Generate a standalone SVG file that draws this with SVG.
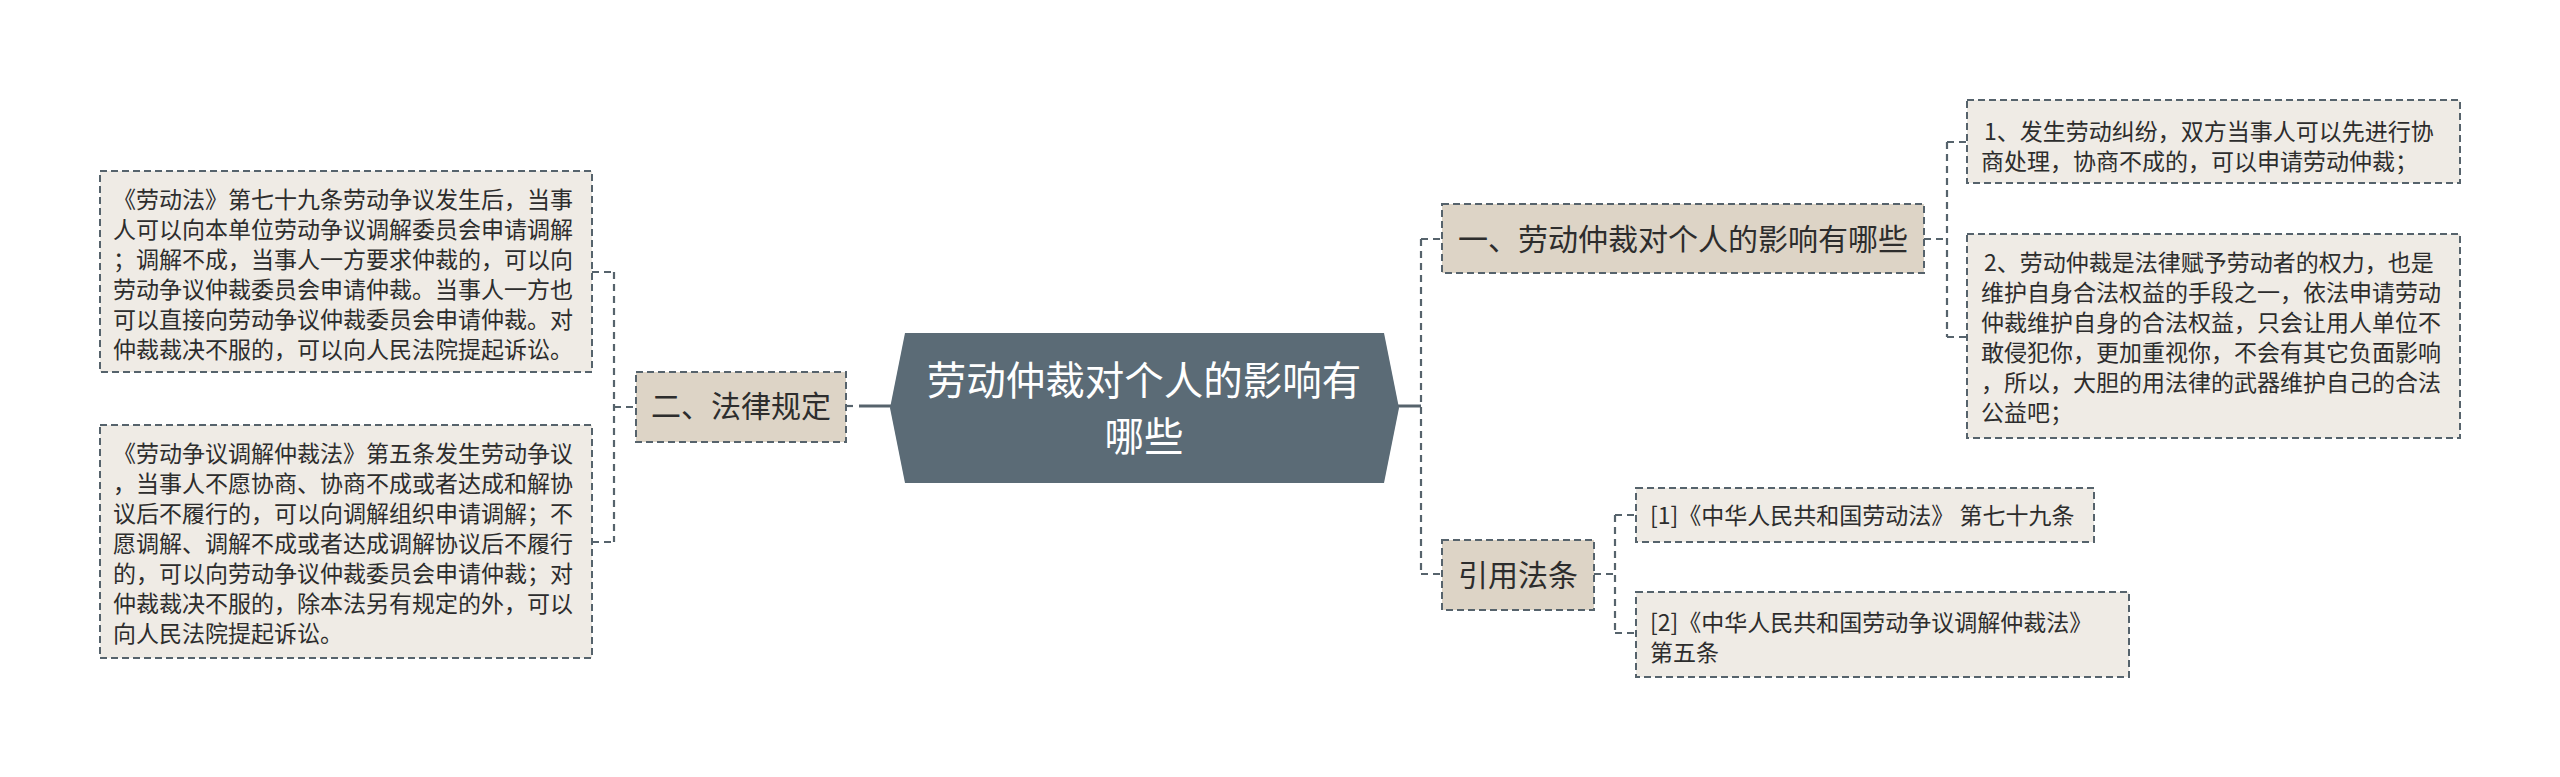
<svg xmlns="http://www.w3.org/2000/svg" width="2560" height="777" viewBox="0 0 2560 777">
<style>
.leaf{fill:#efebe5;stroke:#56636c;stroke-width:2;stroke-dasharray:7 4}
.mid{fill:#ddd4c6;stroke:#56636c;stroke-width:2;stroke-dasharray:7 4}
.t{font-family:"Noto Sans CJK SC","Microsoft YaHei",sans-serif;fill:#2d2d2d}
.s{font-size:23px}
.m{font-size:30px}
.c{font-size:39.5px;fill:#ffffff}
.con{fill:none;stroke:#56636c;stroke-width:2.2;stroke-dasharray:7 5}
.solid{fill:none;stroke:#56636c;stroke-width:3}
</style>
<rect width="2560" height="777" fill="#ffffff"/>
<g id="connectors">
<path class="con" d="M592 272H614M592 542H614M614 272V542M614 407H636"/>
<path class="con" d="M846 406H853"/>
<path class="solid" d="M859 406H891"/>
<path class="solid" d="M1398 406H1421"/>
<path class="con" d="M1421 239V574M1421 239H1442M1421 574H1442"/>
<path class="con" d="M1924 239H1947M1947 142V337M1947 142H1967M1947 337H1967"/>
<path class="con" d="M1594 574H1615M1615 515V633M1615 515H1636M1615 633H1636"/>
</g>
<g id="node-left1">
<rect class="leaf" x="100" y="171" width="492" height="201"/>
<text class="t s" x="113"><tspan x="113" y="208">《劳动法》第七十九条劳动争议发生后，当事</tspan><tspan x="113" y="238">人可以向本单位劳动争议调解委员会申请调解</tspan><tspan x="113" y="268">；调解不成，当事人一方要求仲裁的，可以向</tspan><tspan x="113" y="298">劳动争议仲裁委员会申请仲裁。当事人一方也</tspan><tspan x="113" y="328">可以直接向劳动争议仲裁委员会申请仲裁。对</tspan><tspan x="113" y="358">仲裁裁决不服的，可以向人民法院提起诉讼。</tspan></text>
</g>
<g id="node-left2">
<rect class="leaf" x="100" y="425" width="492" height="233"/>
<text class="t s"><tspan x="113" y="462">《劳动争议调解仲裁法》第五条发生劳动争议</tspan><tspan x="113" y="492">，当事人不愿协商、协商不成或者达成和解协</tspan><tspan x="113" y="522">议后不履行的，可以向调解组织申请调解；不</tspan><tspan x="113" y="552">愿调解、调解不成或者达成调解协议后不履行</tspan><tspan x="113" y="582">的，可以向劳动争议仲裁委员会申请仲裁；对</tspan><tspan x="113" y="612">仲裁裁决不服的，除本法另有规定的外，可以</tspan><tspan x="113" y="642">向人民法院提起诉讼。</tspan></text>
</g>
<g id="node-law">
<rect class="mid" x="636" y="372" width="210" height="70"/>
<text class="t m" x="741" y="417" text-anchor="middle">二、法律规定</text>
</g>
<g id="node-center">
<polygon points="905,333 1384,333 1399,408 1384,483 905,483 890,408" fill="#5b6b76"/>
<text class="t c" text-anchor="middle"><tspan x="1144" y="395">劳动仲裁对个人的影响有</tspan><tspan x="1144" y="451">哪些</tspan></text>
</g>
<g id="node-one">
<rect class="mid" x="1442" y="204" width="482" height="69"/>
<text class="t m" x="1683" y="250" text-anchor="middle">一、劳动仲裁对个人的影响有哪些</text>
</g>
<g id="node-cite">
<rect class="mid" x="1442" y="540" width="152" height="70"/>
<text class="t m" x="1518" y="586" text-anchor="middle">引用法条</text>
</g>
<g id="node-r1">
<rect class="leaf" x="1967" y="100" width="493" height="83"/>
<text class="t s"><tspan x="1984" y="140">1、发生劳动纠纷，双方当事人可以先进行协</tspan><tspan x="1981" y="170">商处理，协商不成的，可以申请劳动仲裁；</tspan></text>
</g>
<g id="node-r2">
<rect class="leaf" x="1967" y="234" width="493" height="204"/>
<text class="t s"><tspan x="1984" y="271">2、劳动仲裁是法律赋予劳动者的权力，也是</tspan><tspan x="1981" y="301">维护自身合法权益的手段之一，依法申请劳动</tspan><tspan x="1981" y="331">仲裁维护自身的合法权益，只会让用人单位不</tspan><tspan x="1981" y="361">敢侵犯你，更加重视你，不会有其它负面影响</tspan><tspan x="1981" y="391">，所以，大胆的用法律的武器维护自己的合法</tspan><tspan x="1981" y="421">公益吧；</tspan></text>
</g>
<g id="node-c1">
<rect class="leaf" x="1636" y="488" width="458" height="54"/>
<text class="t s" x="1650" y="524">[1]《中华人民共和国劳动法》 第七十九条</text>
</g>
<g id="node-c2">
<rect class="leaf" x="1636" y="592" width="493" height="85"/>
<text class="t s"><tspan x="1650" y="631">[2]《中华人民共和国劳动争议调解仲裁法》</tspan><tspan x="1650" y="661">第五条</tspan></text>
</g>
</svg>
